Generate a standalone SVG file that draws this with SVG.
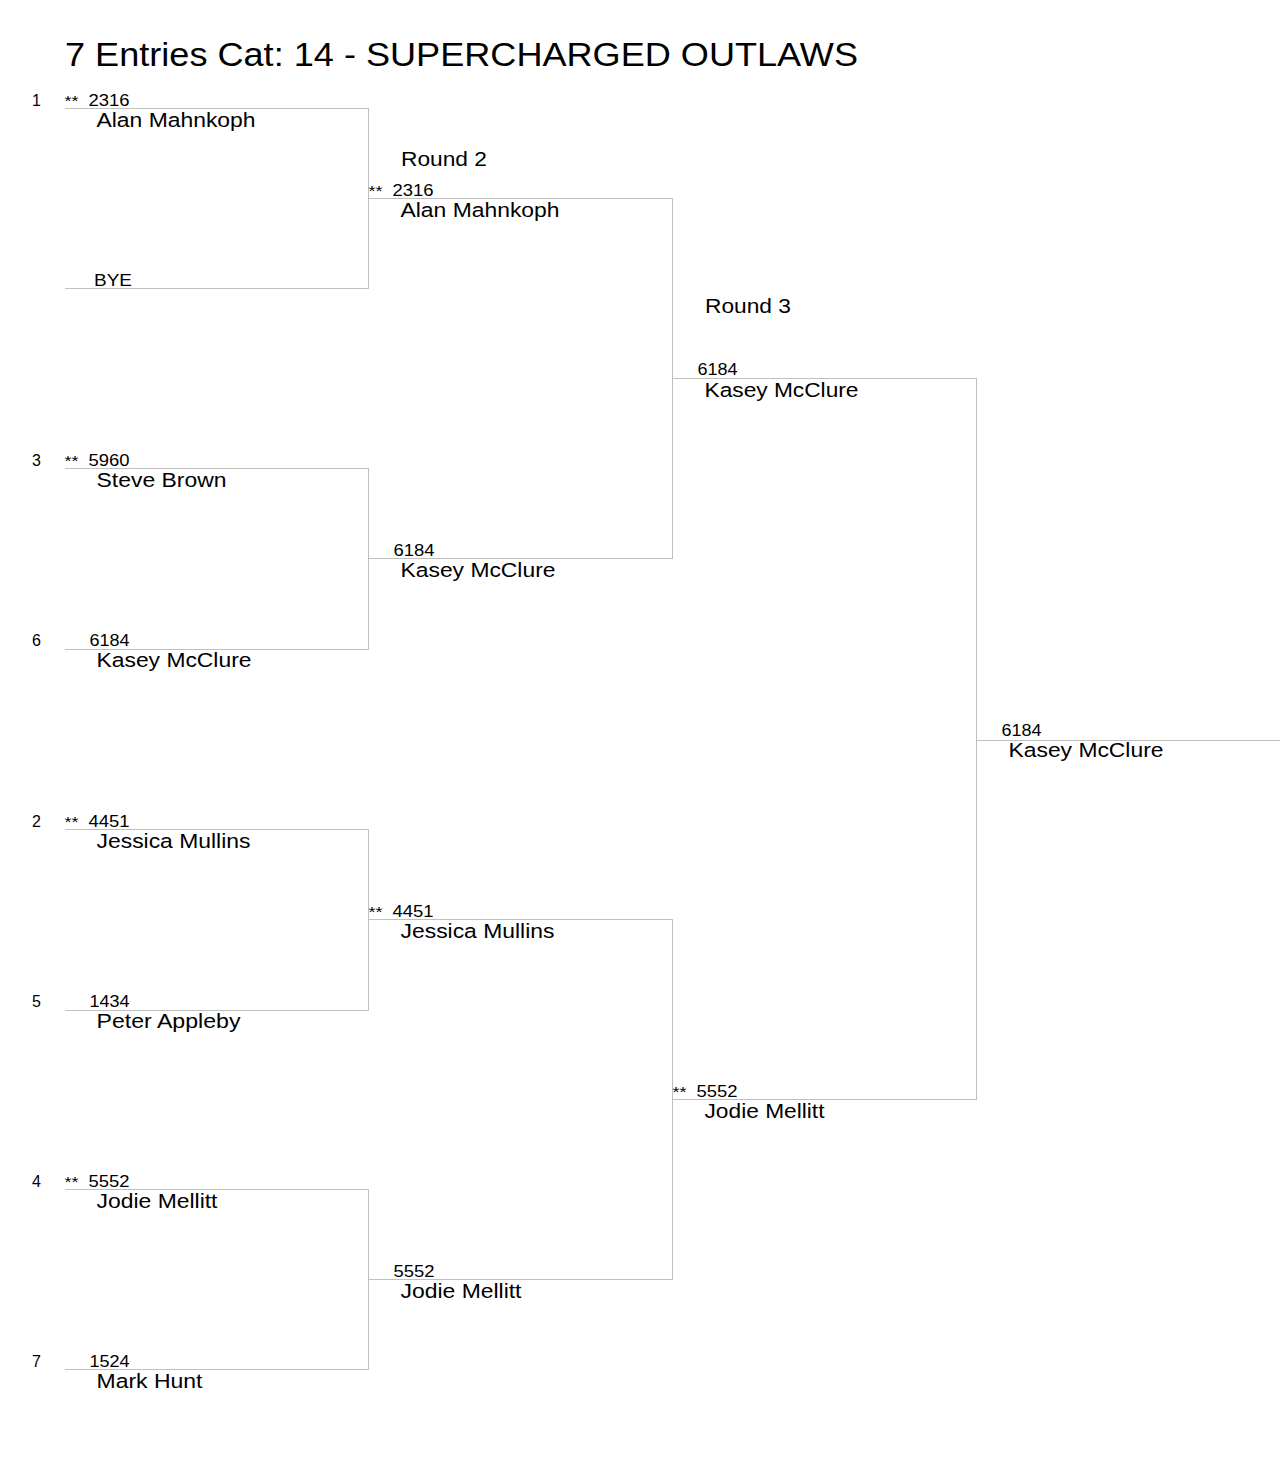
<svg xmlns="http://www.w3.org/2000/svg" width="1287" height="1470" viewBox="0 0 1287 1470">
<style>
text{font-family:"Liberation Sans",Arial,sans-serif;fill:#000}
.t{font-size:34px}
.s{font-size:16px}
.n{font-size:16px}
.st{font-size:15px}
.nm{font-size:20.5px}
.r{font-size:20px}
#connectors line{stroke:#c0c0c0;stroke-width:1}
</style>
<rect width="1287" height="1470" fill="#fff"/>
<text class="t" x="65" y="66" textLength="793" lengthAdjust="spacingAndGlyphs">7 Entries Cat: 14 - SUPERCHARGED OUTLAWS</text>
<g id="connectors">
<line x1="65" y1="108.5" x2="368" y2="108.5"/>
<line x1="65" y1="288.5" x2="368" y2="288.5"/>
<line x1="65" y1="468.5" x2="368" y2="468.5"/>
<line x1="65" y1="649.5" x2="368" y2="649.5"/>
<line x1="65" y1="829.5" x2="368" y2="829.5"/>
<line x1="65" y1="1010.5" x2="368" y2="1010.5"/>
<line x1="65" y1="1189.5" x2="368" y2="1189.5"/>
<line x1="65" y1="1369.5" x2="368" y2="1369.5"/>
<line x1="368.5" y1="108" x2="368.5" y2="289"/>
<line x1="368.5" y1="468" x2="368.5" y2="650"/>
<line x1="368.5" y1="829" x2="368.5" y2="1011"/>
<line x1="368.5" y1="1189" x2="368.5" y2="1370"/>
<line x1="368" y1="198.5" x2="672" y2="198.5"/>
<line x1="368" y1="558.5" x2="672" y2="558.5"/>
<line x1="368" y1="919.5" x2="672" y2="919.5"/>
<line x1="368" y1="1279.5" x2="672" y2="1279.5"/>
<line x1="672.5" y1="198" x2="672.5" y2="559"/>
<line x1="672.5" y1="919" x2="672.5" y2="1280"/>
<line x1="672" y1="378.5" x2="976" y2="378.5"/>
<line x1="672" y1="1099.5" x2="976" y2="1099.5"/>
<line x1="976.5" y1="378" x2="976.5" y2="1100"/>
<line x1="976" y1="740.5" x2="1280" y2="740.5"/>
</g>
<g id="labels">
<text class="r" x="401" y="166" textLength="86" lengthAdjust="spacingAndGlyphs">Round 2</text>
<text class="r" x="705" y="313" textLength="86" lengthAdjust="spacingAndGlyphs">Round 3</text>
</g>
<g id="r1-1"><text class="s" x="32" y="106">1</text><text class="st" x="64.5" y="106" textLength="14" lengthAdjust="spacingAndGlyphs">**</text><text class="n" x="88.5" y="106" textLength="41" lengthAdjust="spacingAndGlyphs">2316</text><text class="nm" x="96.5" y="127" textLength="159" lengthAdjust="spacingAndGlyphs">Alan Mahnkoph</text></g>
<g id="r1-2"><text class="n" x="94" y="286" textLength="38" lengthAdjust="spacingAndGlyphs">BYE</text></g>
<g id="r1-3"><text class="s" x="32" y="466">3</text><text class="st" x="64.5" y="466" textLength="14" lengthAdjust="spacingAndGlyphs">**</text><text class="n" x="88.5" y="466" textLength="41" lengthAdjust="spacingAndGlyphs">5960</text><text class="nm" x="96.5" y="487" textLength="130" lengthAdjust="spacingAndGlyphs">Steve Brown</text></g>
<g id="r1-4"><text class="s" x="32" y="646">6</text><text class="n" x="89.5" y="646" textLength="40" lengthAdjust="spacingAndGlyphs">6184</text><text class="nm" x="96.5" y="667" textLength="155" lengthAdjust="spacingAndGlyphs">Kasey McClure</text></g>
<g id="r1-5"><text class="s" x="32" y="827">2</text><text class="st" x="64.5" y="827" textLength="14" lengthAdjust="spacingAndGlyphs">**</text><text class="n" x="88.5" y="827" textLength="41" lengthAdjust="spacingAndGlyphs">4451</text><text class="nm" x="96.5" y="848" textLength="154" lengthAdjust="spacingAndGlyphs">Jessica Mullins</text></g>
<g id="r1-6"><text class="s" x="32" y="1007">5</text><text class="n" x="89.5" y="1007" textLength="40" lengthAdjust="spacingAndGlyphs">1434</text><text class="nm" x="96.5" y="1028" textLength="144" lengthAdjust="spacingAndGlyphs">Peter Appleby</text></g>
<g id="r1-7"><text class="s" x="32" y="1187">4</text><text class="st" x="64.5" y="1187" textLength="14" lengthAdjust="spacingAndGlyphs">**</text><text class="n" x="88.5" y="1187" textLength="41" lengthAdjust="spacingAndGlyphs">5552</text><text class="nm" x="96.5" y="1208" textLength="121" lengthAdjust="spacingAndGlyphs">Jodie Mellitt</text></g>
<g id="r1-8"><text class="s" x="32" y="1367">7</text><text class="n" x="89.5" y="1367" textLength="40" lengthAdjust="spacingAndGlyphs">1524</text><text class="nm" x="96.5" y="1388" textLength="106" lengthAdjust="spacingAndGlyphs">Mark Hunt</text></g>
<g id="r2-1"><text class="st" x="368.5" y="196" textLength="14" lengthAdjust="spacingAndGlyphs">**</text><text class="n" x="392.5" y="196" textLength="41" lengthAdjust="spacingAndGlyphs">2316</text><text class="nm" x="400.5" y="217" textLength="159" lengthAdjust="spacingAndGlyphs">Alan Mahnkoph</text></g>
<g id="r2-2"><text class="n" x="393.5" y="556" textLength="41" lengthAdjust="spacingAndGlyphs">6184</text><text class="nm" x="400.5" y="577" textLength="155" lengthAdjust="spacingAndGlyphs">Kasey McClure</text></g>
<g id="r2-3"><text class="st" x="368.5" y="917" textLength="14" lengthAdjust="spacingAndGlyphs">**</text><text class="n" x="392.5" y="917" textLength="41" lengthAdjust="spacingAndGlyphs">4451</text><text class="nm" x="400.5" y="938" textLength="154" lengthAdjust="spacingAndGlyphs">Jessica Mullins</text></g>
<g id="r2-4"><text class="n" x="393.5" y="1277" textLength="41" lengthAdjust="spacingAndGlyphs">5552</text><text class="nm" x="400.5" y="1298" textLength="121" lengthAdjust="spacingAndGlyphs">Jodie Mellitt</text></g>
<g id="r3-1"><text class="n" x="697.5" y="375" textLength="40" lengthAdjust="spacingAndGlyphs">6184</text><text class="nm" x="704.5" y="397" textLength="154" lengthAdjust="spacingAndGlyphs">Kasey McClure</text></g>
<g id="r3-2"><text class="st" x="672.5" y="1097" textLength="14" lengthAdjust="spacingAndGlyphs">**</text><text class="n" x="696.5" y="1097" textLength="41" lengthAdjust="spacingAndGlyphs">5552</text><text class="nm" x="704.5" y="1118" textLength="120" lengthAdjust="spacingAndGlyphs">Jodie Mellitt</text></g>
<g id="final"><text class="n" x="1001.5" y="736" textLength="40" lengthAdjust="spacingAndGlyphs">6184</text><text class="nm" x="1008.5" y="757" textLength="155" lengthAdjust="spacingAndGlyphs">Kasey McClure</text></g>
</svg>
